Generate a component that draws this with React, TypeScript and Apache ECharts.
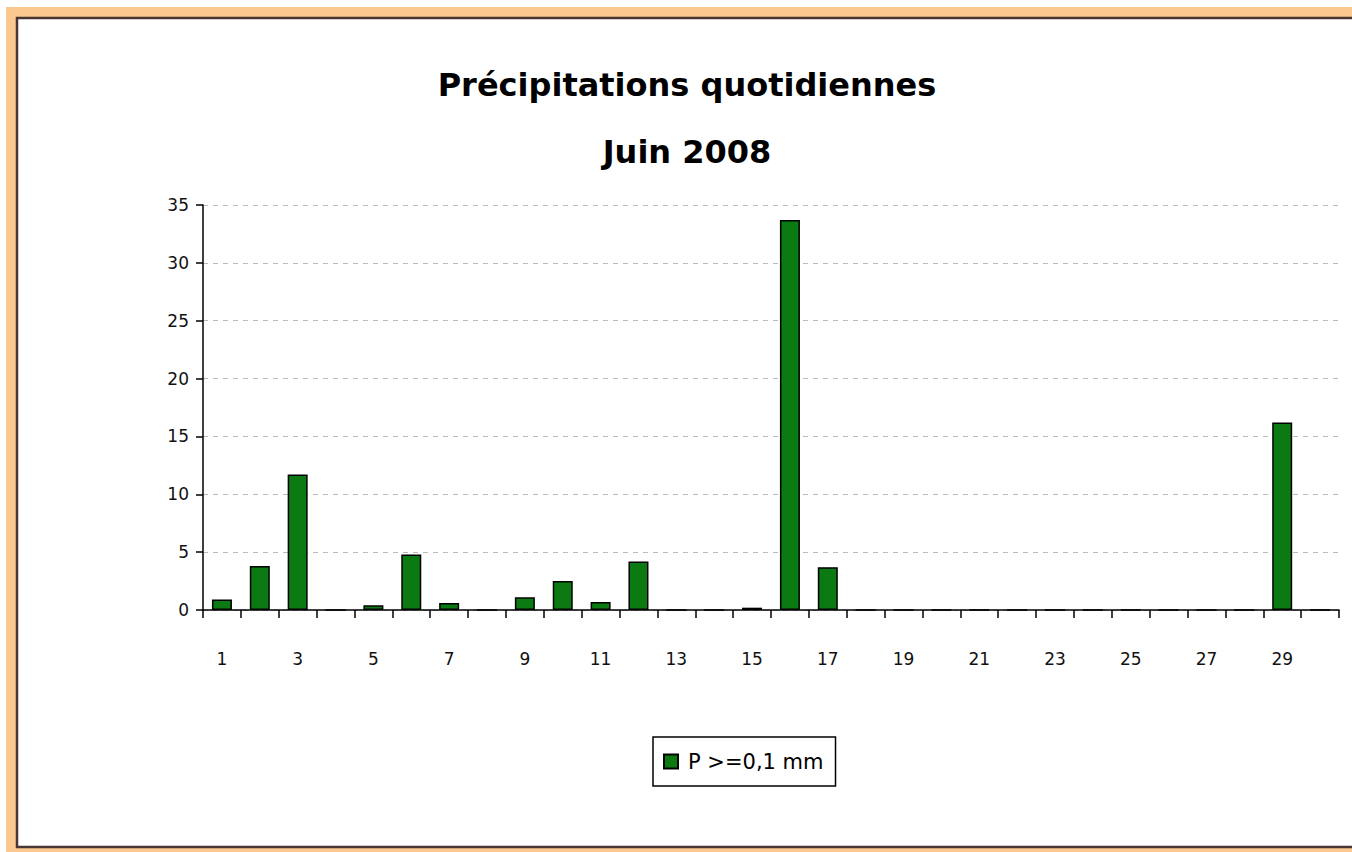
import React, { useEffect, useRef } from "react";
import * as echarts from "echarts";

const days: string[] = Array.from({ length: 30 }, (_, i) => String(i + 1));
const precipitation: number[] = [
  0.9, 3.8, 11.7, 0, 0.4, 4.8, 0.6, 0, 1.1, 2.5,
  0.7, 4.2, 0, 0, 0.2, 33.7, 3.7, 0, 0, 0,
  0, 0, 0, 0, 0, 0, 0, 0, 16.2, 0,
];
const titleLines: string[] = ["Précipitations quotidiennes", "Juin 2008"];
const seriesName = "P >=0,1 mm";

export default function App() {
  const ref = useRef<HTMLDivElement>(null);
  useEffect(() => {
    if (!ref.current) return;
    const chart = echarts.init(ref.current, null, { renderer: "svg" });
    chart.setOption({
      animation: false,
      backgroundColor: "#ffffff",
      graphic: [
        { type: "rect", z: -10, silent: true, shape: { x: 6, y: 7, width: 1400, height: 900 }, style: { fill: "#fbc890" } },
        { type: "rect", z: -9, silent: true, shape: { x: 17, y: 18, width: 1400, height: 829 }, style: { fill: "#ffffff", stroke: "#4a3535", lineWidth: 2.5 } },
        {
          type: "text", x: 687, y: 85,
          style: { text: titleLines[0], font: "bold 32px 'DejaVu Sans'", fill: "#000", align: "center", verticalAlign: "middle" },
        },
        {
          type: "text", x: 687, y: 152,
          style: { text: titleLines[1], font: "bold 32px 'DejaVu Sans'", fill: "#000", align: "center", verticalAlign: "middle" },
        },
      ],
      grid: { left: 203, right: 13, top: 205, bottom: 242, containLabel: false },
      legend: {
        left: 653, top: 737,
        orient: "horizontal",
        borderColor: "#000", borderWidth: 1.5,
        padding: [14, 12, 14, 10],
        itemWidth: 14, itemHeight: 14,
        itemGap: 6,
        icon: "rect",
        textStyle: { fontFamily: "'DejaVu Sans'", fontSize: 21, color: "#000", padding: [0, 0, 0, 5] },
        data: [seriesName],
      },
      xAxis: {
        type: "category",
        data: days,
        axisLine: { show: true, lineStyle: { color: "#000", width: 1.5 } },
        axisTick: { show: true, interval: 0, length: 8, lineStyle: { color: "#000", width: 1.5 } },
        axisLabel: { interval: 1, margin: 40, fontFamily: "'DejaVu Sans'", fontSize: 17, color: "#111" },
        splitLine: { show: false },
      },
      yAxis: {
        type: "value",
        min: 0, max: 35, interval: 5,
        axisLine: { show: true, lineStyle: { color: "#000", width: 1.5 } },
        axisTick: { show: true, inside: false, length: 7, lineStyle: { color: "#000", width: 1.5 } },
        axisLabel: { margin: 14, fontFamily: "'DejaVu Sans'", fontSize: 17, color: "#111" },
        splitLine: { show: true, lineStyle: { color: "#bbbbbb", type: [5, 5], width: 1 } },
      },
      series: [
        {
          name: seriesName,
          type: "bar",
          data: precipitation,
          barWidth: 20,
          itemStyle: { color: "#0b7a12", borderColor: "#000", borderWidth: 1.5 },
        },
      ],
    });
    return () => chart.dispose();
  }, []);
  return <div ref={ref} style={{ position: "fixed", left: 0, top: 0, width: 1352, height: 852 }} />;
}
